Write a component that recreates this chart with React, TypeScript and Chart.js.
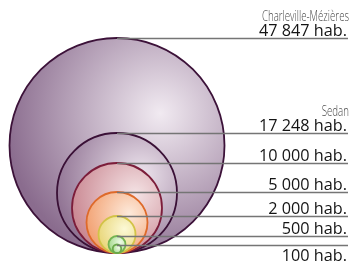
import React, { useEffect, useRef } from "react";
import { Chart, registerables } from "chart.js";

Chart.register(...registerables);

const places = ["Charleville-Mézières", "Sedan", "", "", "", "", ""];
const populations = [47847, 17248, 10000, 5000, 2000, 500, 100];
// apparent circle diameters (axis units)
const diameters = [215, 120, 90, 61, 37, 17, 8.5];
const highlights = ["#f1eaf1", "#ede4ed", "#f4e3e5", "#fde9da", "#fcf9d6", "#eefae6", "#f2fbec"];
const edges = ["#8a6c8e", "#917494", "#ca8892", "#f2a273", "#e9d77c", "#a3d98c", "#a8dc90"];
const strokes = ["#3c1239", "#3a1036", "#7c1d3a", "#de6a2a", "#d2c347", "#74b451", "#6aa94a"];

const fmt = (n: number) => String(n).replace(/\B(?=(\d{3})+(?!\d))/g, " ") + " hab.";

export default function App() {
  const ref = useRef<HTMLCanvasElement | null>(null);
  useEffect(() => {
    document.body.style.margin = "0";
    const canvas = ref.current!;
    const labelsPlugin = {
      id: "labels",
      afterDatasetsDraw(chart: any) {
        const { ctx, scales } = chart;
        const xs = scales.x, ys = scales.y;
        const x0 = xs.getPixelForValue(0);
        const xEnd = xs.getPixelForValue(231);
        ctx.save();
        diameters.forEach((d, i) => {
          const y = Math.round(ys.getPixelForValue(d)) + 0.5;
          ctx.strokeStyle = "#757575";
          ctx.lineWidth = 1.5;
          ctx.beginPath();
          ctx.moveTo(x0, y);
          ctx.lineTo(xEnd, y);
          ctx.stroke();
          ctx.textAlign = "right";
          ctx.fillStyle = "#141414";
          ctx.font = "17px 'Open Sans'";
          const below = i === populations.length - 1;
          const by = below ? y + 15 : y - 2.5;
          ctx.save();
          ctx.translate(xEnd - 1, by);
          ctx.scale(0.955, 1);
          ctx.fillText(fmt(populations[i]), 0, 0);
          ctx.restore();
          if (places[i]) {
            ctx.save();
            ctx.fillStyle = "#4a4a4a";
            ctx.font = "300 14.5px 'Open Sans'";
            ctx.translate(xEnd + 1, by - 15.5);
            ctx.scale(0.67, 1);
            ctx.fillText(places[i], 0, 0);
            ctx.restore();
          }
        });
        ctx.restore();
      },
    };
    const chart = new Chart(canvas, {
      type: "bubble",
      data: {
        datasets: [
          {
            data: diameters.map((d) => ({ x: 0, y: d / 2, r: 1 })),
            clip: false as any,
            backgroundColor: edges.slice(),
            borderColor: strokes.slice(),
            borderWidth: 1.8,
          } as any,
        ],
      },
      options: {
        animation: false,
        responsive: false,
        events: [],
        layout: { padding: 0, autoPadding: false } as any,
        plugins: { legend: { display: false }, tooltip: { enabled: false } },
        scales: {
          x: { type: "linear", min: -117, max: 234, display: false },
          y: { type: "linear", min: -9, max: 253, display: false },
        },
      },
      plugins: [labelsPlugin],
    });
    // second pass: radii and gradients from the configured scales
    const xs: any = chart.scales.x, ys: any = chart.scales.y;
    const ds: any = chart.data.datasets[0];
    const ctx = chart.ctx;
    const fills: any[] = [];
    ds.data = diameters.map((d, i) => {
      const cx = xs.getPixelForValue(0);
      const cy = ys.getPixelForValue(d / 2);
      const r = ys.getPixelForValue(0) - cy;
      const fx = cx + r * 0.4, fy = cy - r * 0.3;
      const g = ctx.createRadialGradient(fx, fy, 0, fx, fy, r * 1.45);
      g.addColorStop(0, highlights[i]);
      g.addColorStop(1, edges[i]);
      fills.push(g);
      return { x: 0, y: d / 2, r };
    });
    ds.backgroundColor = fills;
    chart.update();
    return () => chart.destroy();
  }, []);
  return <canvas ref={ref} width={351} height={262} style={{ display: "block" }} />;
}
